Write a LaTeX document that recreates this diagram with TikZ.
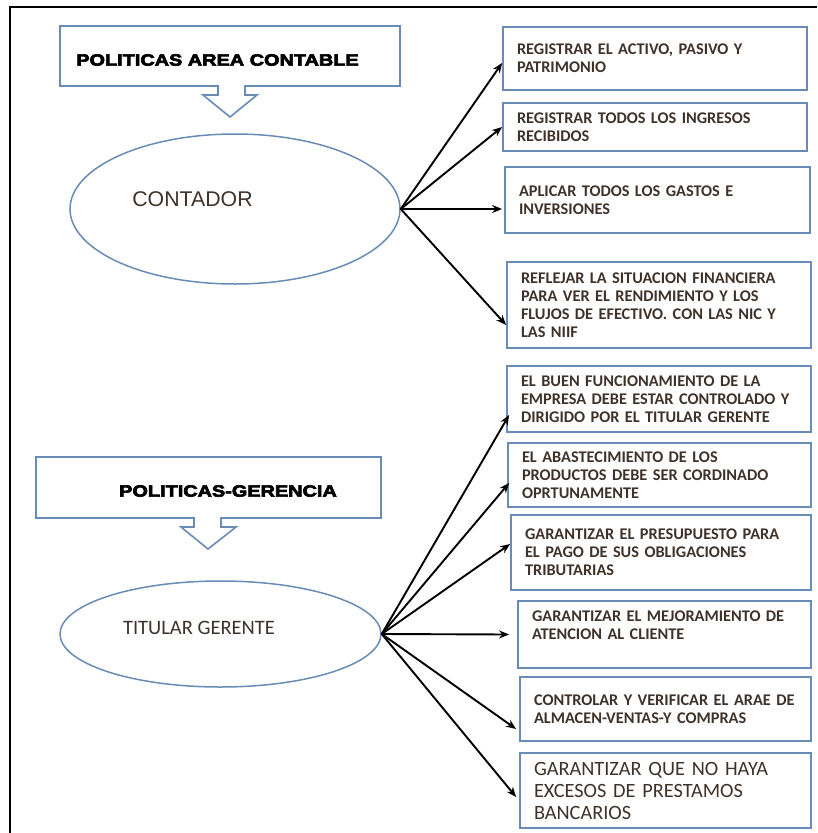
\documentclass[tikz,border=0pt]{standalone}
\usepackage{fontspec}
\usetikzlibrary{arrows.meta,shapes.geometric}
\setmainfont{Carlito}
\newfontfamily\hdrfont[FakeStretch=1.22,FakeBold=4]{Liberation Sans Bold}
\newfontfamily\arialfont{Liberation Sans}
\definecolor{boxblue}{RGB}{104,140,182}
\definecolor{txt}{RGB}{62,50,42}
\tikzset{
  callout/.style={draw=boxblue,line width=1.6pt},
  hdr/.style={font=\hdrfont\fontsize{16.3}{18}\selectfont,text=black,inner sep=0pt},
  oval/.style={draw=boxblue,ellipse,line width=1.5pt,inner sep=0pt},
  ovaltext/.style={inner sep=0pt,text=txt},
  item/.style={draw=boxblue,line width=1.8pt,rectangle,inner xsep=14pt,inner ysep=0pt,
    align=left,text=txt,font=\bfseries\fontsize{16.3}{18}\selectfont},
  bigitem/.style={item,font=\mdseries\fontsize{20.3}{22}\selectfont},
  arr/.style={black,line width=1.9pt,-{Stealth[length=10pt,width=8pt]}},
  frame/.style={black,line width=2.4pt}
}
\begin{document}
\begin{tikzpicture}[x=1pt,y=-1pt]
\useasboundingbox (0,0) rectangle (817,833);
% outer frame
\coordinate (ftl) at (10,7);
\coordinate (ftr) at (817,7);
\coordinate (fbl) at (10,833);
\draw[frame] (fbl) -- (ftl) -- (ftr);

% ===== top section =====
\draw[callout] (60,26) -- (400,26) -- (400,86) -- (245,86) -- (245,95) -- (257,95) -- (230,117)
  -- (203,95) -- (218,95) -- (218,86) -- (60,86) -- cycle;
\node[hdr] (h1) at (217.5,60) {POLITICAS AREA CONTABLE};

\node[oval,minimum width=330pt,minimum height=150pt] (c) at (235,209) {};
\node[ovaltext,font=\arialfont\fontsize{21.3}{24}\selectfont] (ct) at (192.5,199) {CONTADOR};

\node[item,minimum width=304pt,minimum height=63pt,text width=276pt] (a) at (655,58.5)
  {REGISTRAR EL ACTIVO, PASIVO Y\\PATRIMONIO};
\node[item,minimum width=304pt,minimum height=48pt,text width=276pt] (b) at (655,127)
  {REGISTRAR TODOS LOS INGRESOS\\RECIBIDOS};
\node[item,minimum width=305pt,minimum height=66pt,text width=277pt] (cc) at (657.5,200)
  {APLICAR TODOS LOS GASTOS E\\INVERSIONES};
\node[item,minimum width=304pt,minimum height=86pt,text width=276pt] (d) at (659,305)
  {REFLEJAR LA SITUACION FINANCIERA\\PARA VER EL RENDIMIENTO Y LOS\\FLUJOS DE EFECTIVO. CON LAS NIC Y\\LAS NIIF};

\draw[arr] (c.east) -- ([yshift=-4.5pt]a.west);
\draw[arr] (c.east) -- (b.west);
\draw[arr] (c.east) -- ([xshift=-2pt,yshift=-9pt]cc.west);
\draw[arr] (c.east) -- ([yshift=-20pt]d.west);

% ===== bottom section =====
\draw[callout] (36,457) -- (381,457) -- (381,518) -- (221,518) -- (221,527) -- (236,527) -- (208,549)
  -- (181,527) -- (194,527) -- (194,518) -- (36,518) -- cycle;
\node[hdr] (h2) at (228,491) {POLITICAS-GERENCIA};

\node[oval,minimum width=321pt,minimum height=106pt] (t) at (220.5,634) {};
\node[ovaltext,font=\fontsize{20.5}{23}\selectfont] (tt) at (199,628) {TITULAR GERENTE};

\node[item,minimum width=304pt,minimum height=66pt,text width=276pt] (e) at (659,399)
  {EL BUEN FUNCIONAMIENTO DE LA\\EMPRESA DEBE ESTAR CONTROLADO Y\\DIRIGIDO POR EL TITULAR GERENTE};
\node[item,minimum width=303pt,minimum height=64pt,text width=275pt] (f) at (659.5,475)
  {EL ABASTECIMIENTO DE LOS\\PRODUCTOS DEBE SER CORDINADO\\OPRTUNAMENTE};
\node[item,minimum width=300pt,minimum height=75pt,text width=272pt] (g) at (661,552.5)
  {GARANTIZAR EL PRESUPUESTO PARA\\EL PAGO DE SUS OBLIGACIONES\\TRIBUTARIAS};
\node[item,minimum width=293pt,minimum height=67pt,text width=265pt] (h) at (664.5,634.5)
  {GARANTIZAR EL MEJORAMIENTO DE\\ATENCION AL CLIENTE\\\mbox{}};
\node[item,minimum width=291pt,minimum height=64pt,text width=263pt] (i) at (665.5,709)
  {CONTROLAR Y VERIFICAR EL ARAE DE\\ALMACEN-VENTAS-Y COMPRAS};
\node[bigitem,minimum width=291pt,minimum height=75pt,text width=263pt] (j) at (665.5,790.5)
  {GARANTIZAR QUE NO HAYA\\EXCESOS DE PRESTAMOS\\BANCARIOS};

\draw[arr] (t.east) -- ([xshift=3pt,yshift=-16pt]e.west);
\draw[arr] (t.east) -- ([xshift=2pt,yshift=-8pt]f.west);
\draw[arr] (t.east) -- ([yshift=8.5pt]g.west);
\draw[arr] (t.east) -- ([xshift=-8pt]h.west);
\draw[arr] (t.east) -- ([xshift=-3pt,yshift=-20pt]i.west);
\draw[arr] (t.east) -- ([xshift=-3pt,yshift=-6.5pt]j.west);
\end{tikzpicture}
\end{document}
